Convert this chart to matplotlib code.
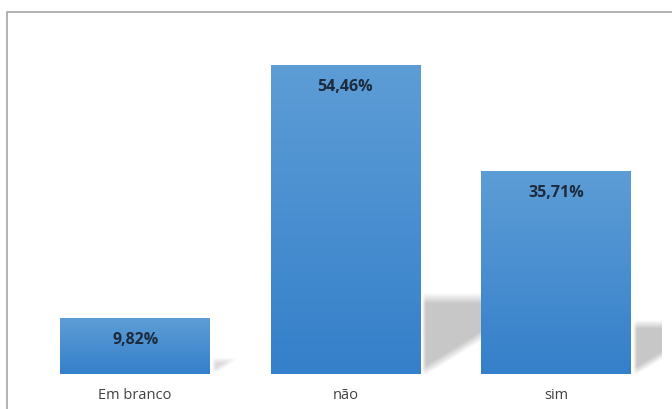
import numpy as np
import matplotlib.pyplot as plt
from matplotlib.patches import Rectangle
from matplotlib.colors import LinearSegmentedColormap

categories = ["Em branco", "não", "sim"]
values = [9.82, 54.46, 35.71]
labels = ["9,82%", "54,46%", "35,71%"]

plt.rcParams['font.family'] = ['Open Sans', 'DejaVu Sans']

fig = plt.figure(figsize=(6.72, 4.10), dpi=100)
fig.patch.set_facecolor('white')

# moldura cinza (sai da imagem à direita e embaixo)
fig.patches.append(Rectangle((7 / 672, -0.1), 1.0, 1 - 13 / 410 + 0.1,
                             transform=fig.transFigure, fill=False,
                             edgecolor='#a6a6a6', linewidth=1.2))

ax = fig.add_axes([30 / 672, 35 / 410, 631 / 672, 340.4 / 410])
ax.set_xlim(-0.5, 2.5)
ax.set_ylim(0, 60)
ax.axis('off')

bar_w = 0.713
bar_cmap = LinearSegmentedColormap.from_list('barra', ['#3580ca', '#5d9dd6'])

# escala px -> dados
px_x = 3.0 / 631
px_y = 60 / 340.4
shadow_rgb = np.array([0.77, 0.77, 0.77])

for i, v in enumerate(values):
    xl, xr = i - bar_w / 2, i + bar_w / 2
    h_px = v / px_y

    # sombra em perspectiva (calculada em pixels, bordas suaves)
    t = 0.245 * h_px
    slope = 0.62
    s = t / slope
    w_img, h_img = int(s + 20), int(t + 16)
    xx, yy = np.meshgrid(np.arange(w_img) + 0.5, np.arange(h_img) + 0.5)
    blur = 5 + 0.07 * t
    a_top = np.clip((t - yy) / blur + 0.5, 0, 1)
    a_bot = np.clip((yy - slope * xx) / blur + 0.5, 0, 1)
    a_left = np.clip((xx - 2) / 4, 0, 1)
    alpha = a_top * a_bot * a_left * (0.95 if t > 30 else 0.6)
    rgba = np.zeros((h_img, w_img, 4))
    rgba[..., :3] = shadow_rgb
    rgba[..., 3] = alpha
    ax.imshow(rgba, origin='lower', aspect='auto', interpolation='bilinear',
              extent=(xr, xr + w_img * px_x, 0, h_img * px_y), zorder=1)

    # barra com gradiente
    g = np.linspace(0, 1, 100).reshape(-1, 1)
    ax.imshow(g, cmap=bar_cmap, aspect='auto', origin='lower',
              extent=(xl, xr, 0, v), zorder=2)
    ax.text(i, v - 21 * px_y, labels[i], ha='center', va='center',
            fontsize=11.5, fontweight='bold', color='#1c2a3c', zorder=3)
    ax.text(i, -21 * px_y, categories[i], ha='center', va='center',
            fontsize=10.5, color='#404040', clip_on=False)

ax.set_xlim(-0.5, 2.5)
ax.set_ylim(0, 60)

fig.savefig('out.png', dpi=100, facecolor='white')
